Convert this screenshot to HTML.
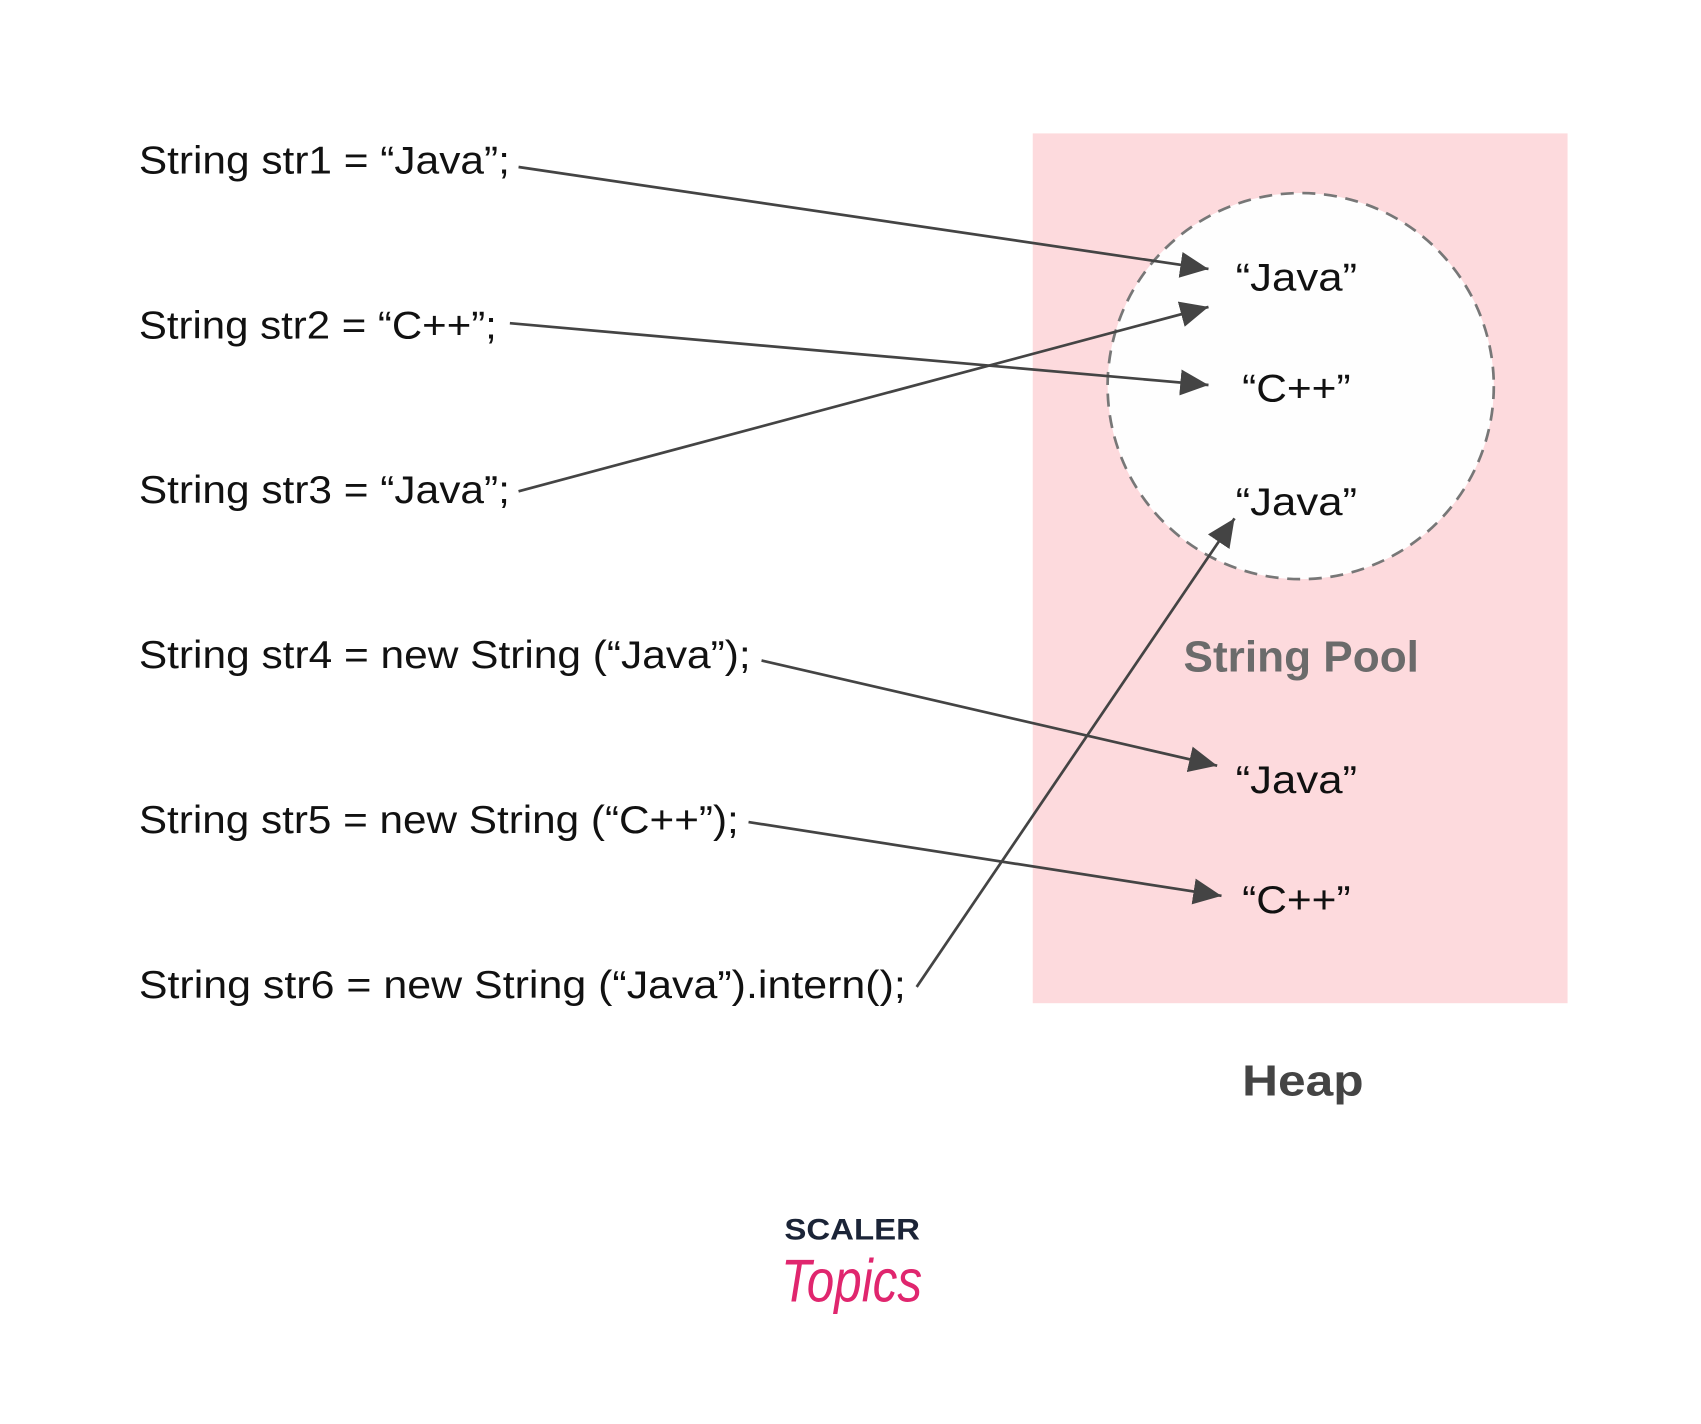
<!DOCTYPE html>
<html><head><meta charset="utf-8"><style>
html,body{margin:0;padding:0;background:#fff;}
svg{display:block;}
text{font-family:"Liberation Sans",sans-serif;}
</style></head><body>
<svg width="1701" height="1424" viewBox="0 0 1568 1313" preserveAspectRatio="none" xmlns="http://www.w3.org/2000/svg">
<defs>
<marker id="b" viewBox="0 0 26 24" refX="26" refY="12" markerWidth="26" markerHeight="24" markerUnits="userSpaceOnUse" orient="auto">
<path d="M0,0 L26,12 L0,24 z" fill="#444"/>
</marker>
</defs>
<rect x="952" y="123" width="493" height="802" fill="#fddadd"/>
<circle cx="1199" cy="356" r="178" fill="#fefefe" stroke="#777" stroke-width="2.5" stroke-dasharray="12,8"/>
<g font-size="36" fill="#111">
<text x="128" y="160" textLength="342" lengthAdjust="spacingAndGlyphs">String str1 = “Java”;</text>
<text x="128" y="312" textLength="330" lengthAdjust="spacingAndGlyphs">String str2 = “C++”;</text>
<text x="128" y="464" textLength="342" lengthAdjust="spacingAndGlyphs">String str3 = “Java”;</text>
<text x="128" y="616" textLength="564" lengthAdjust="spacingAndGlyphs">String str4 = new String (“Java”);</text>
<text x="128" y="768" textLength="553" lengthAdjust="spacingAndGlyphs">String str5 = new String (“C++”);</text>
<text x="128" y="920" textLength="707" lengthAdjust="spacingAndGlyphs">String str6 = new String (“Java”).intern();</text>
<text x="1139" y="268" textLength="112" lengthAdjust="spacingAndGlyphs">“Java”</text>
<text x="1145" y="370" textLength="100" lengthAdjust="spacingAndGlyphs">“C++”</text>
<text x="1139" y="475" textLength="112" lengthAdjust="spacingAndGlyphs">“Java”</text>
<text x="1139" y="731" textLength="112" lengthAdjust="spacingAndGlyphs">“Java”</text>
<text x="1145" y="842" textLength="100" lengthAdjust="spacingAndGlyphs">“C++”</text>
</g>
<text x="1091" y="619" font-size="40" font-weight="bold" fill="#6b6b6b" textLength="217" lengthAdjust="spacingAndGlyphs">String Pool</text>
<text x="1145" y="1010" font-size="40" font-weight="bold" fill="#444" textLength="112" lengthAdjust="spacingAndGlyphs">Heap</text>
<g stroke="#444" stroke-width="2.5" fill="none" marker-end="url(#b)">
<line x1="478" y1="154" x2="1114" y2="248"/>
<line x1="470" y1="298" x2="1114" y2="355"/>
<line x1="478" y1="453" x2="1114" y2="283"/>
<line x1="702" y1="609" x2="1122" y2="706"/>
<line x1="690" y1="758" x2="1126" y2="826"/>
<line x1="845" y1="910" x2="1138" y2="478"/>
</g>
<text x="723" y="1143" font-size="27" font-weight="bold" fill="#1b2437" textLength="125" lengthAdjust="spacingAndGlyphs">SCALER</text>
<text x="720" y="1200" font-size="56" font-style="italic" fill="#e0266e" font-family="Liberation Serif, serif" textLength="130" lengthAdjust="spacingAndGlyphs">Topics</text>
</svg>
</body></html>
